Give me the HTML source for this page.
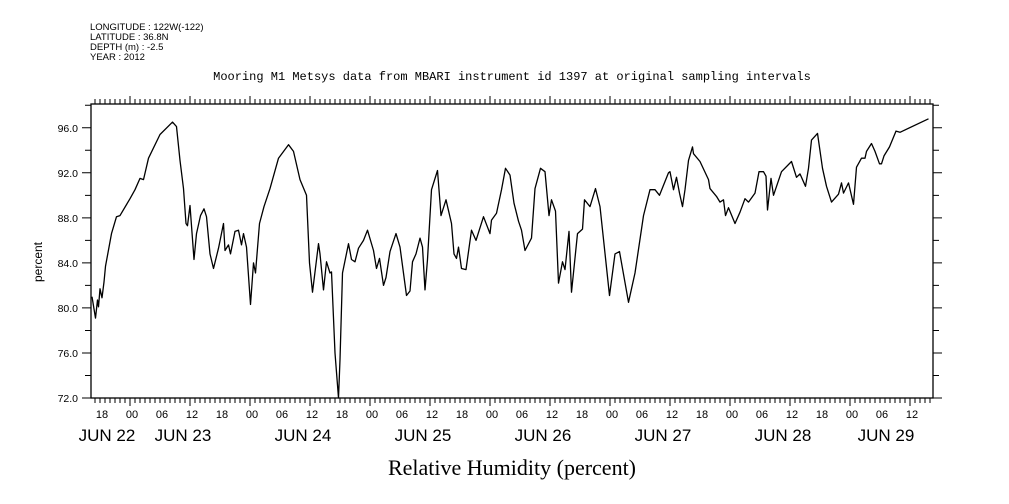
<!DOCTYPE html>
<html><head><meta charset="utf-8"><style>
html,body{margin:0;padding:0;background:#fff;}
svg{display:block;font-family:"Liberation Sans",sans-serif;}
</style></head><body>
<svg id="chart" width="1009" height="504" viewBox="0 0 1009 504" xmlns="http://www.w3.org/2000/svg">
<g font-size="9.5" fill="#000">
<text x="90" y="30">LONGITUDE : 122W(-122)</text>
<text x="90" y="40">LATITUDE : 36.8N</text>
<text x="90" y="50">DEPTH (m) : -2.5</text>
<text x="90" y="60">YEAR : 2012</text>
</g>
<text x="512" y="80" text-anchor="middle" font-size="12" font-family="Liberation Mono, monospace">Mooring M1 Metsys data from MBARI instrument id 1397 at original sampling intervals</text>
<text x="42" y="262" text-anchor="middle" font-size="12" transform="rotate(-90 42 262)">percent</text>
<text x="512" y="475" text-anchor="middle" font-size="22" font-family="Liberation Serif, serif">Relative Humidity (percent)</text>
<g id="axes"></g>
<g id="series"></g>
</svg>
<script>
const hours=[-7.6,-6.9,-6.5,-6.3,-6,-5.6,-5.2,-4.9,-3.7,-2.7,-2,0,1,2,2.7,3.7,6,8.5,9.3,10,10.7,11.2,11.5,12,12.8,13.3,14.1,14.8,15.3,16,16.7,17.7,18.7,19,19.7,20.1,21,21.7,22.3,22.7,23.3,24.1,24.7,25.1,25.9,26.8,28,29.7,31.7,32.7,34,35.3,35.9,36.5,37.7,38,38.7,39.3,40,40.3,41,41.7,42,42.5,43.7,44.3,45,45.7,46.7,47.5,48.7,49.3,49.9,50.7,51.2,52,53.2,54,55.3,56,56.5,57.2,58,58.5,59,59.5,60.3,61.5,62.2,63.2,64.3,64.8,65.3,65.7,66.3,67.2,68.3,69.2,70.7,72,72.3,73.3,74.3,75.1,76,76.8,77.7,78.3,79,80.3,81,82.1,83,83.8,84.3,85.1,85.7,86.5,87,87.8,88.3,89.5,90.5,90.9,92,93.1,94,95.9,97,97.9,99.7,101,102.7,104,105,105.9,107.7,108,108.7,109.3,109.9,110.5,111,111.7,112.5,112.7,114,115.7,116,117.3,118,118.7,119.1,119.7,121,122,123,123.7,125,125.8,126.7,127.2,127.5,128.2,128.7,130.3,132.3,133.3,134,135.1,135.7,136.3,137.5,138.5,139.3,140.3,141.7,142.3,142.7,143.7,144.7,145.3,146.3,147,147.3,148.3,149,149.9,150.3,150.8,151.9,153.2,154,159.7];
const humidity=[81.0,79.1,80.7,80.1,81.7,80.9,82.3,83.7,86.6,88.1,88.2,89.7,90.5,91.5,91.4,93.3,95.4,96.5,96.1,93.1,90.6,87.5,87.3,89.1,84.3,86.6,88.2,88.8,88.1,84.8,83.5,85.3,87.5,85.1,85.6,84.8,86.8,86.9,85.6,86.6,85.4,80.3,84,83.1,87.5,89,90.6,93.3,94.5,93.9,91.4,90,84,81.4,85.7,84.8,81.6,84.1,83.1,83.2,76,72,75.4,83.1,85.7,84.3,84.1,85.3,86,86.9,85.1,83.5,84.4,82,82.7,85,86.6,85.4,81.1,81.5,84.1,84.8,86.2,85.4,81.6,84.3,90.5,92.2,88.2,89.6,87.5,84.8,84.4,85.4,83.5,83.4,86.9,86,88.1,86.6,87.8,88.4,90.5,92.4,91.8,89.3,87.7,86.9,85.1,86.2,90.6,92.4,92.1,88.2,89.6,88.6,82.2,84.1,83.4,86.8,81.4,86.6,87,89.6,89,90.6,89,81.1,84.8,85,80.5,83.1,88.2,90.5,90.5,90,92,92.1,90.5,91.6,90.2,89,90.5,93.1,94.3,93.7,93,91.4,90.6,89.9,89.4,89.6,88.2,88.9,87.5,88.5,89.7,89.4,90.2,92.1,92.1,91.7,88.7,91.5,90,92.1,93,91.6,91.9,90.8,92.4,94.9,95.5,92.4,90.8,89.4,90.1,91.1,90.2,91.1,89.2,92.5,93.3,93.3,93.9,94.6,93.9,92.8,92.8,93.5,94.3,95.7,95.6,96.8];
const yTicks=[72,76,80,84,88,92,96];
const hourLabels=["18","00","06","12","18","00","06","12","18","00","06","12","18","00","06","12","18","00","06","12","18","00","06","12","18","00","06","12"];
const dateLabels=["JUN 22","JUN 23","JUN 24","JUN 25","JUN 26","JUN 27","JUN 28","JUN 29"];
const datePos=[107,183,303,423,543,663,783,886];

const L=91,R=933,T=104,B=398;
const X0=130,PXH=5;
const Y72=398,PXU=11.26;
const xs=h=>X0+h*PXH;
const ys=v=>Y72-(v-72)*PXU;
const NS="http://www.w3.org/2000/svg";
const ax=document.getElementById('axes');
function mk(tag,a,parent){const e=document.createElementNS(NS,tag);for(const k in a)e.setAttribute(k,a[k]);parent.appendChild(e);return e;}

const frame=mk('rect',{x:L,y:T,width:R-L,height:B-T,fill:'none',stroke:'#000','stroke-width':1.3},ax);



let d='';
const hStart=Math.ceil((L-X0)/PXH),hEnd=Math.floor((R-X0)/PXH);
for(let h=hStart;h<=hEnd;h++){
  const x=xs(h);const major=((h%12)+12)%12===0;
  d+=`M${x} ${B}V${B+(major?8:5)}M${x} ${T}V${T-(major?8:5)}`;
}
for(let v=72;v<=98;v+=2){
  const y=ys(v);if(y<T)continue;const major=v%4===0;
  d+=`M${L} ${y}H${L-(major?9:6)}M${R} ${y}H${R+(major?9:6)}`;
}
const tk=mk('path',{d:d,stroke:'#000','stroke-width':1,fill:'none'},ax);



yTicks.forEach(v=>{
  const t=mk('text',{x:L-13,y:ys(v)+4,'text-anchor':'end','font-size':10.5},ax);
  t.textContent=v.toFixed(1);
  
  
});
hourLabels.forEach((s,i)=>{
  const h=-6+i*6;
  const t=mk('text',{x:xs(h)+2,y:418,'text-anchor':'middle','font-size':11},ax);
  t.textContent=s;
  
  
});
dateLabels.forEach((s,i)=>{
  const t=mk('text',{x:datePos[i],y:441,'text-anchor':'middle','font-size':17},ax);
  t.textContent=s;
  
  
});

const pts=hours.map((h,i)=>xs(h).toFixed(1)+','+ys(humidity[i]).toFixed(1)).join(' ');
const line=mk('polyline',{points:pts,fill:'none',stroke:'#000','stroke-width':1.3,'stroke-linejoin':'round'},document.getElementById('series'));


</script>
</body></html>
